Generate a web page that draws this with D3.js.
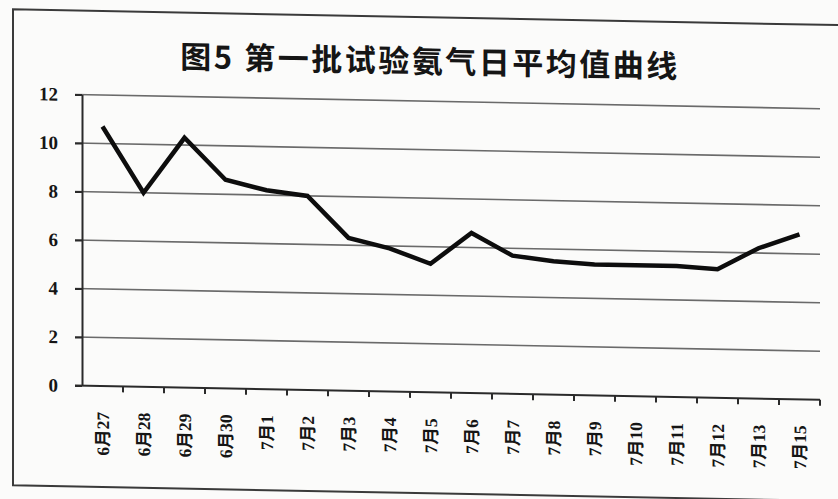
<!DOCTYPE html>
<html>
<head>
<meta charset="utf-8">
<script src="https://cdn.jsdelivr.net/npm/d3@7/dist/d3.min.js"></script>
<style>
  html, body { margin: 0; padding: 0; background: #fbfbfa; }
  svg { display: block; }
</style>
</head>
<body>
<svg id="chart" width="838" height="499"></svg>
<script>
// Daily mean ammonia, first test batch
const categories = ["6月27","6月28","6月29","6月30","7月1","7月2","7月3","7月4","7月5","7月6","7月7","7月8","7月9","7月10","7月11","7月12","7月13","7月15"];
const values = [10.7, 8.0, 10.3, 8.6, 8.2, 8.0, 6.3, 5.9, 5.3, 6.6, 5.7, 5.5, 5.4, 5.4, 5.4, 5.3, 6.2, 6.8];
const yTicks = [0, 2, 4, 6, 8, 10, 12];
const titleText = "图5 第一批试验氨气日平均值曲线";

const svg = d3.select("#chart");
// the printed page sits slightly askew
const root = svg.append("g").attr("transform", "skewY(1.1)");

const plot = { left: 82, right: 820, top: 93, bottom: 384 };

const x = d3.scaleBand().domain(categories).range([plot.left, plot.right]);
const y = d3.scaleLinear().domain([0, 12]).range([plot.bottom, plot.top]);

// outer frame
root.append("path")
  .attr("d", `M ${860} 9 H 13 V 485 H 860`)
  .attr("fill", "none")
  .attr("stroke", "#3a3a3a")
  .attr("stroke-width", 2);

// title
root.append("text")
  .attr("x", 430)
  .attr("y", 51)
  .attr("text-anchor", "middle")
  .attr("dominant-baseline", "central")
  .attr("font-family", "'Noto Sans CJK SC', 'Liberation Serif', serif")
  .attr("font-weight", 700)
  .attr("font-size", 31)
  .attr("letter-spacing", 2.5)
  .attr("fill", "#151515")
  .text(titleText);

// horizontal gridlines (extend left as tick marks)
root.append("g").selectAll("line")
  .data(yTicks.filter(t => t > 0))
  .join("line")
  .attr("x1", plot.left - 7)
  .attr("x2", plot.right)
  .attr("y1", d => y(d))
  .attr("y2", d => y(d))
  .attr("stroke", "#6a6a6a")
  .attr("stroke-width", 1.6);

// y axis
const yAxis = root.append("g")
  .attr("transform", `translate(${plot.left},0)`)
  .call(d3.axisLeft(y).tickValues(yTicks).tickSize(7).tickPadding(17).tickSizeOuter(0));
yAxis.select(".domain").attr("stroke", "#2a2a2a").attr("stroke-width", 2);
yAxis.selectAll(".tick line").attr("stroke", "#2a2a2a").attr("stroke-width", 2);
yAxis.selectAll(".tick text")
  .attr("font-family", "'Liberation Serif', serif")
  .attr("font-weight", 700)
  .attr("font-size", 19)
  .attr("fill", "#151515");

// x axis baseline
root.append("line")
  .attr("x1", plot.left - 7).attr("x2", plot.right)
  .attr("y1", y(0)).attr("y2", y(0))
  .attr("stroke", "#2a2a2a").attr("stroke-width", 2);

// x ticks on category boundaries
const bounds = categories.map(c => x(c) + x.bandwidth());
root.append("g").selectAll("line")
  .data(bounds)
  .join("line")
  .attr("x1", d => d).attr("x2", d => d)
  .attr("y1", y(0)).attr("y2", y(0) + 6)
  .attr("stroke", "#2a2a2a").attr("stroke-width", 2);

// x labels, rotated
root.append("g").selectAll("text")
  .data(categories)
  .join("text")
  .attr("transform", d => `translate(${x(d) + x.bandwidth() / 2 + 6},${y(0) + 26}) rotate(-90)`)
  .attr("text-anchor", "end")
  .attr("font-family", "'Liberation Serif', 'Noto Sans CJK SC', serif")
  .attr("font-weight", 700)
  .attr("font-size", 17.5)
  .attr("fill", "#151515")
  .text(d => d);

// data line
const line = d3.line()
  .x((d, i) => x(categories[i]) + x.bandwidth() / 2)
  .y(d => y(d));

root.append("path")
  .datum(values)
  .attr("d", line)
  .attr("fill", "none")
  .attr("stroke", "#0d0d0d")
  .attr("stroke-width", 4.5)
  .attr("stroke-linejoin", "miter")
  .attr("stroke-linecap", "butt");
</script>
</body>
</html>
